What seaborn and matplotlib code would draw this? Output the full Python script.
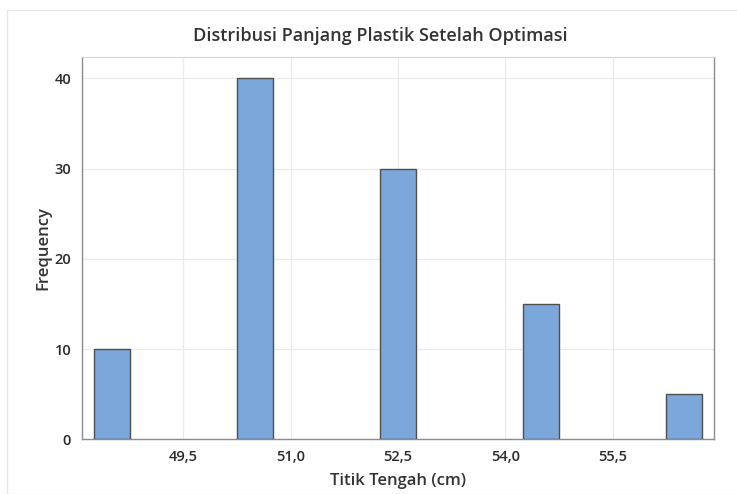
import numpy as np
import pandas as pd
import matplotlib
matplotlib.use("Agg")
import matplotlib.pyplot as plt
import seaborn as sns
from matplotlib.patches import Rectangle

# data (bin midpoints and counts)
midpoints = [48.5, 50.5, 52.5, 54.5, 56.5]
counts = [10, 40, 30, 15, 5]
x_ticks = [49.5, 51.0, 52.5, 54.0, 55.5]
x_tick_labels = ["49,5", "51,0", "52,5", "54,0", "55,5"]
y_ticks = [0, 10, 20, 30, 40]

df = pd.DataFrame({"titik_tengah": midpoints, "frekuensi": counts})

sns.set_style("white")
plt.rcParams["font.family"] = ["Open Sans", "DejaVu Sans"]

fig = plt.figure(figsize=(7.37, 4.94), dpi=100)
ax = fig.add_axes([0.1117, 0.1107, 0.8575, 0.7745])

sns.histplot(data=df, x="titik_tengah", weights="frekuensi",
             binwidth=0.5, binrange=(48.25, 56.75),
             color="#7ba7db", edgecolor="#4f4f4f", linewidth=1.0,
             alpha=1.0, ax=ax, zorder=3)

# empty bins should not leave an outline on the baseline
for p in ax.patches:
    if p.get_height() == 0:
        p.set_linewidth(0)

ax.set_xlim(48.09, 56.92)
ax.set_ylim(0, 42.4)
ax.set_xticks(x_ticks)
ax.set_xticklabels(x_tick_labels)
ax.set_yticks(y_ticks)
ax.grid(True, color="#ebebeb", linewidth=0.9, zorder=0)
ax.set_axisbelow(True)

for side in ["left", "bottom", "right"]:
    ax.spines[side].set_color("#8c8c8c")
    ax.spines[side].set_linewidth(1.0)
ax.spines["top"].set_color("#d4d4d4")

ax.tick_params(axis="both", direction="out", length=4, width=0.8,
               color="#8c8c8c", labelsize=10.5, labelcolor="#2b2b2b", pad=4)
for lab in ax.get_xticklabels() + ax.get_yticklabels():
    lab.set_fontweight("semibold")

ax.set_xlabel("Titik Tengah (cm)", fontsize=12, color="#333333",
              fontweight="semibold", labelpad=6)
ax.set_ylabel("Frequency", fontsize=12, color="#333333",
              fontweight="semibold", labelpad=2)

fig.text(380 / 737, 1 - 36 / 494, "Distribusi Panjang Plastik Setelah Optimasi",
         ha="center", va="center", fontsize=13, color="#333333",
         fontweight="semibold")

# light frame around the graph area
fig.patches.append(Rectangle((7 / 737, 0), 1, 1 - 10 / 494, transform=fig.transFigure,
                             fill=False, edgecolor="#e6e6e6", linewidth=1.0))

fig.savefig("out.png", dpi=100)
